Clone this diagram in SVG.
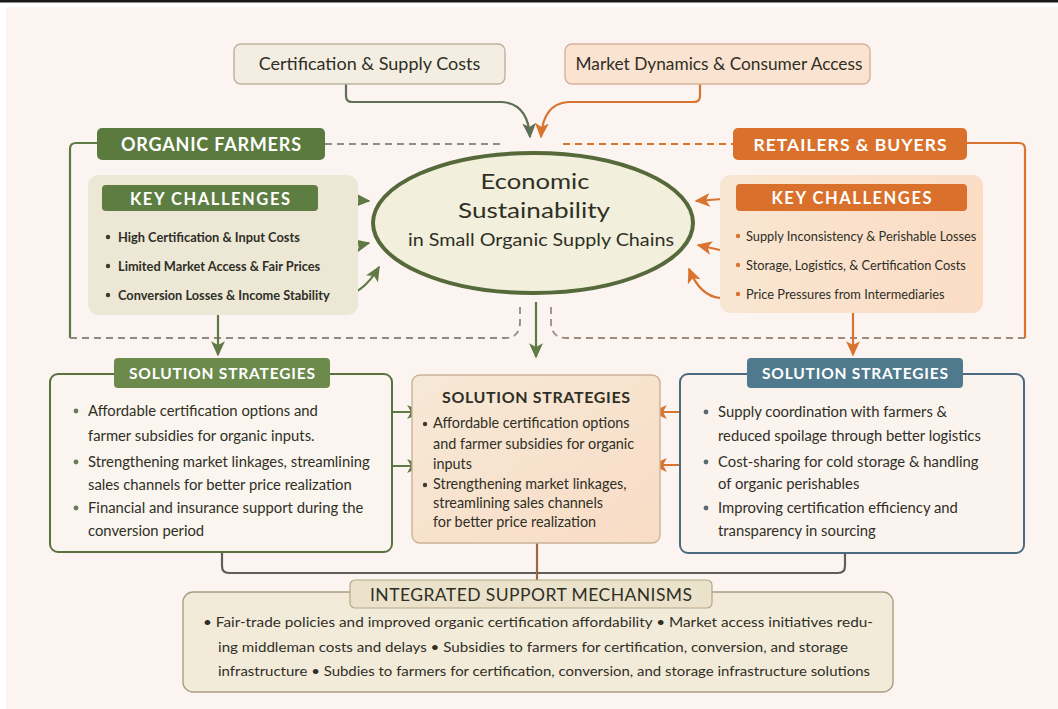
<svg xmlns="http://www.w3.org/2000/svg" width="1058" height="709" viewBox="0 0 1058 709">
  <defs>
    <marker id="ahG" viewBox="0 0 10 10" refX="9" refY="5" markerWidth="7" markerHeight="7" orient="auto" markerUnits="strokeWidth">
      <path d="M0,0.5 L10,5 L0,9.5 L2.5,5 Z" fill="#5f7a45"/>
    </marker>
    <marker id="ahO" viewBox="0 0 10 10" refX="9" refY="5" markerWidth="7" markerHeight="7" orient="auto" markerUnits="strokeWidth">
      <path d="M0,0.5 L10,5 L0,9.5 L2.5,5 Z" fill="#d8742f"/>
    </marker>
    <marker id="ahS" viewBox="0 0 10 10" refX="9" refY="5" markerWidth="7" markerHeight="7" orient="auto" markerUnits="strokeWidth">
      <path d="M0,0.5 L10,5 L0,9.5 L2.5,5 Z" fill="#5e6e55"/>
    </marker>
    <linearGradient id="gMid" x1="0" y1="0" x2="1" y2="1">
      <stop offset="0" stop-color="#f6e9d6"/>
      <stop offset="1" stop-color="#f9dcc6"/>
    </linearGradient>
    <linearGradient id="gPeach" x1="0" y1="0" x2="1" y2="0">
      <stop offset="0" stop-color="#f9e6d2"/>
      <stop offset="1" stop-color="#fbdcc4"/>
    </linearGradient>
  </defs>
  <style>
    text { font-family: Lato, "Open Sans", "Liberation Sans", sans-serif; fill: #2f2f26; }
    .hdr { font-weight: 700; fill: #ffffff; text-anchor: middle; }
    .b12 { font-size: 12.8px; }
    .b13 { font-size: 14.8px; }
    .mid { font-size: 14.4px; }
    .conn { fill: none; stroke-width: 2.2; }
    .dash { fill: none; stroke-width: 1.8; stroke-dasharray: 7 5; }
  </style>

  <!-- page -->
  <rect x="0" y="0" width="1058" height="709" fill="#ffffff"/>
  <rect x="6" y="7" width="1052" height="702" fill="#fcf4f0"/>
  <rect x="0" y="0" width="1058" height="2.5" fill="#1a1a1a"/>

  <!-- connectors -->
  <g id="connectors">
    <!-- top sources into the core -->
    <path class="conn" stroke="#5e6e55" d="M346,84 V96 Q346,102 352,102 H502 Q528,104 530,137" marker-end="url(#ahS)"/>
    <path class="conn" stroke="#d8742f" d="M700,84 V96 Q700,102 694,102 H568 Q543,104 541,137" marker-end="url(#ahO)"/>
    <!-- header dashed links -->
    <path class="dash" stroke="#8a8f7c" d="M325,144 H505"/>
    <path class="dash" stroke="#d8742f" d="M563,144 H733"/>
    <!-- outer brackets -->
    <path class="conn" stroke="#5f7a45" d="M97,143 H76 Q70,143 70,149 V338"/>
    <path class="conn" stroke="#d8742f" d="M967,143 H1019 Q1025,143 1025,149 V338"/>
    <path class="dash" stroke="#8d8a80" d="M70,338 H505 Q520,338 520,322 V302"/>
    <path class="dash" stroke="#a08a7a" d="M1025,338 H566 Q551,338 551,322 V302"/>
    <!-- core down to middle strategies -->
    <path class="conn" stroke="#5f7a45" d="M536,302 V357" marker-end="url(#ahG)"/>
    <!-- left challenges into core -->
    <path class="conn" stroke="#5f7a45" d="M318,198 L369,201" marker-end="url(#ahG)"/>
    <path class="conn" stroke="#5f7a45" d="M338,250 L369,243" marker-end="url(#ahG)"/>
    <path class="conn" stroke="#5f7a45" d="M338,297 Q362,296 379,267" marker-end="url(#ahG)"/>
    <path class="conn" stroke="#5f7a45" d="M218,315 V355" marker-end="url(#ahG)"/>
    <!-- right challenges into core -->
    <path class="conn" stroke="#d8742f" d="M736,198 L696,201" marker-end="url(#ahO)"/>
    <path class="conn" stroke="#d8742f" d="M720,250 L698,245" marker-end="url(#ahO)"/>
    <path class="conn" stroke="#d8742f" d="M720,298 Q700,296 689,269" marker-end="url(#ahO)"/>
    <path class="conn" stroke="#d8742f" d="M853,313 V355" marker-end="url(#ahO)"/>
    <!-- strategies into the middle strategies -->
    <path class="conn" stroke="#5f7a45" d="M386,412 H421" marker-end="url(#ahG)"/>
    <path class="conn" stroke="#5f7a45" d="M386,466 H421" marker-end="url(#ahG)"/>
    <path class="conn" stroke="#d8742f" d="M690,412 H653" marker-end="url(#ahO)"/>
    <path class="conn" stroke="#d8742f" d="M690,465 H653" marker-end="url(#ahO)"/>
    <!-- bottom bracket to integrated support -->
    <path class="conn" stroke="#5e5e55" stroke-width="1.6" d="M222,552 V566 Q222,573 229,573 H838 Q845,573 845,566 V553"/>
    <path class="conn" stroke="#9a6a3c" d="M537,543 V581"/>
  </g>

  <!-- top source boxes -->
  <g id="cert-costs">
    <rect x="234" y="44" width="271" height="40" rx="7" fill="#f3eee1" stroke="#b9b2a2" stroke-width="1.4"/>
    <text x="369.5" y="70" font-size="18" text-anchor="middle" fill="#3a3a30">Certification &amp; Supply Costs</text>
  </g>
  <g id="market-dynamics">
    <rect x="565" y="44" width="305" height="40" rx="7" fill="#fbe3d1" stroke="#d6b29c" stroke-width="1.4"/>
    <text x="719" y="70" font-size="17.3" text-anchor="middle" fill="#3a3a30">Market Dynamics &amp; Consumer Access</text>
  </g>

  <!-- organic farmers -->
  <g id="organic-farmers">
    <rect x="97" y="128" width="228" height="32" rx="5" fill="#5a7a3e"/>
    <text class="hdr" x="211" y="150.5" font-size="18" textLength="180" lengthAdjust="spacing">ORGANIC FARMERS</text>
  </g>
  <g id="farmer-challenges">
    <rect x="88" y="175" width="270" height="140" rx="11" fill="#ede7d6"/>
    <rect x="102" y="185" width="216" height="26" rx="4" fill="#5e7d42"/>
    <text class="hdr" x="210" y="204.5" font-size="16.5" textLength="160" lengthAdjust="spacing">KEY CHALLENGES</text>
    <g fill="#3a3a30">
      <circle cx="108" cy="237" r="2.2"/>
      <circle cx="108" cy="266" r="2.2"/>
      <circle cx="108" cy="295" r="2.2"/>
    </g>
    <text class="b12" x="118" y="241.5" font-weight="700">High Certification &amp; Input Costs</text>
    <text class="b12" x="118" y="270.5" font-weight="700">Limited Market Access &amp; Fair Prices</text>
    <text class="b12" x="118" y="299.5" font-weight="700">Conversion Losses &amp; Income Stability</text>
  </g>

  <!-- retailers & buyers -->
  <g id="retailers-buyers">
    <rect x="733" y="128" width="234" height="32" rx="5" fill="#d9712c"/>
    <text class="hdr" x="850" y="150.5" font-size="17.5" textLength="193" lengthAdjust="spacing">RETAILERS &amp; BUYERS</text>
  </g>
  <g id="retailer-challenges">
    <rect x="720" y="175" width="263" height="138" rx="11" fill="url(#gPeach)"/>
    <rect x="736" y="184" width="231" height="27" rx="4" fill="#d9712c"/>
    <text class="hdr" x="851.5" y="203.5" font-size="16.5" textLength="160" lengthAdjust="spacing">KEY CHALLENGES</text>
    <g fill="#d8742f">
      <circle cx="738" cy="236" r="2.2"/>
      <circle cx="738" cy="265" r="2.2"/>
      <circle cx="738" cy="294" r="2.2"/>
    </g>
    <text class="b12" x="746" y="240.5">Supply Inconsistency &amp; Perishable Losses</text>
    <text class="b12" x="746" y="269.5">Storage, Logistics, &amp; Certification Costs</text>
    <text class="b12" x="746" y="298.5">Price Pressures from Intermediaries</text>
  </g>

  <!-- core -->
  <g id="core">
    <ellipse cx="533" cy="223" rx="160" ry="70" fill="#f2efdc" stroke="#55693a" stroke-width="4"/>
    <text x="535" y="189" font-size="21" text-anchor="middle" textLength="109" lengthAdjust="spacingAndGlyphs">Economic</text>
    <text x="534" y="218" font-size="21" text-anchor="middle" textLength="152" lengthAdjust="spacingAndGlyphs">Sustainability</text>
    <text x="541" y="246" font-size="17" text-anchor="middle" textLength="266" lengthAdjust="spacingAndGlyphs">in Small Organic Supply Chains</text>
  </g>

  <!-- left strategies -->
  <g id="farmer-strategies">
    <rect x="50" y="374" width="342" height="178" rx="8" fill="#faf5ee" stroke="#5a7040" stroke-width="2"/>
    <rect x="114" y="358" width="216" height="30" rx="4" fill="#6b8a4c"/>
    <text class="hdr" x="222" y="379" font-size="15.5" textLength="186" lengthAdjust="spacing">SOLUTION STRATEGIES</text>
    <g fill="#6b7a5a">
      <circle cx="76" cy="411" r="2.4"/>
      <circle cx="76" cy="462" r="2.4"/>
      <circle cx="76" cy="508" r="2.4"/>
    </g>
    <text class="b13" x="88" y="416">Affordable certification options and</text>
    <text class="b13" x="88" y="441">farmer subsidies for organic inputs.</text>
    <text class="b13" x="88" y="467">Strengthening market linkages, streamlining</text>
    <text class="b13" x="88" y="490">sales channels for better price realization</text>
    <text class="b13" x="88" y="513">Financial and insurance support during the</text>
    <text class="b13" x="88" y="536">conversion period</text>
  </g>

  <!-- middle strategies -->
  <g id="shared-strategies">
    <rect x="412" y="375" width="248" height="168" rx="8" fill="url(#gMid)" stroke="#c9b397" stroke-width="1.4"/>
    <text x="536" y="403" font-size="16" font-weight="700" text-anchor="middle" textLength="188" lengthAdjust="spacing">SOLUTION STRATEGIES</text>
    <g fill="#3a3a30">
      <circle cx="425" cy="424" r="2.2"/>
      <circle cx="425" cy="485" r="2.2"/>
    </g>
    <text class="mid" x="433" y="428">Affordable certification options</text>
    <text class="mid" x="433" y="449">and farmer subsidies for organic</text>
    <text class="mid" x="433" y="469">inputs</text>
    <text class="mid" x="433" y="489">Strengthening market linkages,</text>
    <text class="mid" x="433" y="508">streamlining sales channels</text>
    <text class="mid" x="433" y="527">for better price realization</text>
  </g>

  <!-- right strategies -->
  <g id="retailer-strategies">
    <rect x="680" y="374" width="344" height="179" rx="8" fill="#fbf3ee" stroke="#4a6a80" stroke-width="2"/>
    <rect x="747" y="358" width="216" height="30" rx="4" fill="#4f7a8e"/>
    <text class="hdr" x="855" y="379" font-size="15.5" textLength="186" lengthAdjust="spacing">SOLUTION STRATEGIES</text>
    <g fill="#5a6a72">
      <circle cx="706" cy="412" r="2.4"/>
      <circle cx="706" cy="462" r="2.4"/>
      <circle cx="706" cy="508" r="2.4"/>
    </g>
    <text class="b13" x="718" y="417">Supply coordination with farmers &amp;</text>
    <text class="b13" x="718" y="441">reduced spoilage through better logistics</text>
    <text class="b13" x="718" y="467">Cost-sharing for cold storage &amp; handling</text>
    <text class="b13" x="718" y="489">of organic perishables</text>
    <text class="b13" x="718" y="513">Improving certification efficiency and</text>
    <text class="b13" x="718" y="536">transparency in sourcing</text>
  </g>

  <!-- integrated support -->
  <g id="integrated-support">
    <rect x="183" y="592" width="710" height="100" rx="10" fill="#f3ebda" stroke="#aa9d84" stroke-width="1.4"/>
    <rect x="350" y="580" width="362" height="28" rx="5" fill="#ebe2cb" stroke="#b5a688" stroke-width="1.2"/>
    <text x="531" y="600.5" font-size="17.5" text-anchor="middle" fill="#3a3a30" textLength="322" lengthAdjust="spacing">INTEGRATED SUPPORT MECHANISMS</text>
    <text x="203" y="627" font-size="14" textLength="670" lengthAdjust="spacingAndGlyphs">• Fair-trade policies and improved organic certification affordability • Market access initiatives redu-</text>
    <text x="218" y="652" font-size="14" textLength="630" lengthAdjust="spacingAndGlyphs">ing middleman costs and delays • Subsidies to farmers for certification, conversion, and storage</text>
    <text x="218" y="676" font-size="14" textLength="652" lengthAdjust="spacingAndGlyphs">infrastructure • Subdies to farmers for certification, conversion, and storage infrastructure solutions</text>
  </g>
</svg>
